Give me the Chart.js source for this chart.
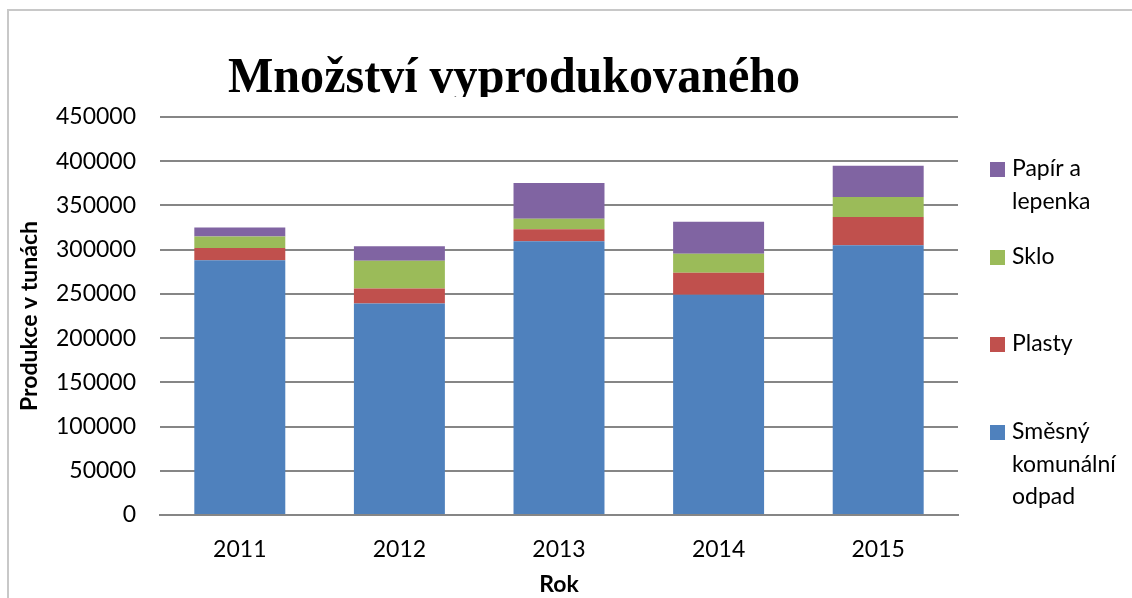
<!DOCTYPE html>
<html>
<head>
<meta charset="utf-8">
<script src="https://cdn.jsdelivr.net/npm/chart.js@4"></script>
<style>
  html, body { margin: 0; padding: 0; background: #fff; }
  #wrap { width: 1132px; height: 598px; position: relative; }
</style>
</head>
<body>
<div id="wrap"><canvas id="waste-chart" width="1132" height="598"></canvas></div>
<script>
// Data
const years = ["2011", "2012", "2013", "2014", "2015"];
const smesny = [288000, 239000, 309500, 249000, 305000];
const plasty = [14000, 17000, 13500, 25000, 32000];
const sklo = [13000, 31500, 12000, 21500, 22500];
const papir = [10000, 16500, 40500, 36000, 35500];
const seriesNames = ["Směsný komunální odpad", "Plasty", "Sklo", "Papír a lepenka"];
const legendLines = [["Směsný", "komunální", "odpad"], ["Plasty"], ["Sklo"], ["Papír a", "lepenka"]];
const colors = ["#4f81bd", "#c0504d", "#9bbb59", "#8064a2"];

const chartTitle = "Množství vyprodukovaného";
const yTitle = "Produkce v tunách";
const xTitle = "Rok";

const font = "Lato, 'Open Sans', sans-serif";

// frame + clipped title, like the original export
const framePlugin = {
  id: "frame",
  beforeDraw(chart) {
    const c = chart.ctx;
    c.save();
    c.fillStyle = "#fff";
    c.fillRect(0, 0, chart.width, chart.height);
    c.strokeStyle = "#c8c8c8";
    c.lineWidth = 2;
    c.beginPath();
    c.moveTo(8, chart.height + 5);
    c.lineTo(8, 10);
    c.lineTo(chart.width + 5, 10);
    c.stroke();
    c.restore();
  },
  afterDraw(chart) {
    const c = chart.ctx;
    c.save();
    c.beginPath();
    c.rect(0, 0, chart.width, 97);
    c.clip();
    c.font = "bold 49px 'Liberation Serif', 'Times New Roman', serif";
    c.fillStyle = "#000";
    c.textBaseline = "alphabetic";
    const w = c.measureText(chartTitle).width;
    const target = 572;
    c.translate(228, 92);
    c.scale(target / w, 1.05);
    c.fillText(chartTitle, 0, 0);
    c.restore();

    // legend, reversed order like the original
    c.save();
    c.font = "23px " + font;
    c.textBaseline = "middle";
    const firstY = [432, 344, 257, 169];
    chart.data.datasets.forEach((ds, i) => {
      const y = firstY[i];
      c.fillStyle = ds.backgroundColor;
      c.fillRect(990, y - 7, 15, 15);
      c.fillStyle = "#000";
      legendLines[i].forEach((line, k) => {
        c.fillText(line, 1012, y + k * 32.5);
      });
    });
    c.restore();
  }
};

const ctx = document.getElementById("waste-chart").getContext("2d");

new Chart(ctx, {
  type: "bar",
  data: {
    labels: years,
    datasets: [smesny, plasty, sklo, papir].map((d, i) => ({
      label: seriesNames[i],
      data: d,
      backgroundColor: colors[i],
      borderWidth: 0,
      categoryPercentage: 1,
      barPercentage: 0.57,
    })),
  },
  options: {
    responsive: false,
    animation: false,
    layout: { padding: { left: 8, right: 174, top: 117, bottom: 0 } },
    scales: {
      x: {
        stacked: true,
        grid: { display: false, drawTicks: false },
        border: { display: true, color: "#868686", width: 2 },
        ticks: { color: "#000", font: { family: font, size: 23 }, padding: 21 },
        title: {
          display: true,
          text: xTitle,
          color: "#000",
          font: { family: font, size: 23, weight: "bold" },
          padding: { top: 0, bottom: 0 },
        },
        afterFit(scale) { scale.height = 83; },
      },
      y: {
        stacked: true,
        min: 0,
        max: 450000,
        grid: { color: "#868686", lineWidth: 2, drawTicks: false },
        border: { display: false },
        ticks: {
          stepSize: 50000,
          color: "#000",
          font: { family: font, size: 23 },
          padding: 24,
          callback: (v) => String(v),
        },
        title: {
          display: true,
          text: yTitle,
          color: "#000",
          font: { family: font, size: 23, weight: "bold" },
          padding: { top: 8, bottom: 0 },
        },
        afterFit(scale) { scale.width = 152; },
      },
    },
    plugins: {
      legend: { display: false },
      title: { display: false },
      tooltip: { enabled: false },
    },
  },
  plugins: [framePlugin],
});
</script>
</body>
</html>
